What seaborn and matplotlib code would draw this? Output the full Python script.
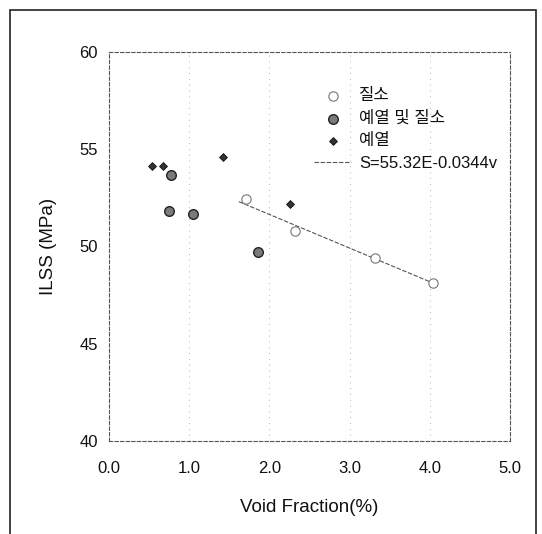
"""ILSS vs void fraction scatter (질소 / 예열 및 질소 / 예열)"""
import numpy as np
import pandas as pd
import matplotlib
matplotlib.use("Agg")
import matplotlib.pyplot as plt
import matplotlib.patches as mpatches
import seaborn as sns

# data
n2_x = [1.71, 2.32, 3.32, 4.04]
n2_y = [52.45, 50.8, 49.4, 48.1]
pre_n2_x = [0.77, 0.75, 1.05, 1.86]
pre_n2_y = [53.67, 51.8, 51.68, 49.72]
pre_x = [0.54, 0.68, 1.42, 2.26]
pre_y = [54.15, 54.15, 54.6, 52.2]
fit_x = [1.62, 4.08]
fit_y = [52.3, 48.05]

labels = ["질소", "예열 및 질소", "예열", "S=55.32E-0.0344v"]
x_ticks = [0.0, 1.0, 2.0, 3.0, 4.0, 5.0]
y_ticks = [40, 45, 50, 55, 60]

sns.set_theme(style="white")
plt.rcParams["font.family"] = ["Liberation Sans", "Noto Sans CJK KR", "DejaVu Sans"]
plt.rcParams["axes.unicode_minus"] = False
plt.rcParams["text.color"] = "#111"
plt.rcParams["axes.labelcolor"] = "#111"
plt.rcParams["xtick.color"] = "#111"
plt.rcParams["ytick.color"] = "#111"

fig = plt.figure(figsize=(5.42, 5.34), dpi=100)
ax = fig.add_axes([0.201, 0.174, 0.740, 0.729])

# outer frame of the scanned figure
fig.patches.append(mpatches.Rectangle((0.018, -0.05), 0.971, 1.032, transform=fig.transFigure,
                                      fill=False, edgecolor="#222", linewidth=1.2))

sns.scatterplot(x=n2_x, y=n2_y, ax=ax, marker="o", s=45, facecolor="white",
                edgecolor="#777", linewidth=0.8, label=labels[0], zorder=4)
sns.scatterplot(x=pre_n2_x, y=pre_n2_y, ax=ax, marker="o", s=48, color="#7a7a7a",
                edgecolor="#222", linewidth=1.0, label=labels[1], zorder=4)
sns.scatterplot(x=pre_x, y=pre_y, ax=ax, marker="D", s=16, color="#333",
                edgecolor="#111", linewidth=0.6, label=labels[2], zorder=4)
sns.lineplot(x=fit_x, y=fit_y, ax=ax, color="#555", linewidth=0.8,
             linestyle=(0, (4, 1.5)), label=labels[3], zorder=3)

ax.set_xlim(0, 5)
ax.set_ylim(40, 60)
ax.set_xticks(x_ticks)
ax.set_xticklabels([f"{v:.1f}" for v in x_ticks], fontsize=12)
ax.set_yticks(y_ticks)
ax.set_yticklabels([str(v) for v in y_ticks], fontsize=12)
ax.tick_params(axis="x", length=0, pad=14)
ax.tick_params(axis="y", length=0, pad=8)

for x in x_ticks[1:-1]:
    ax.axvline(x, color="#999", linewidth=0.6, linestyle=(0, (1, 6)), zorder=1)

for sp in ax.spines.values():
    sp.set_color("#555")
    sp.set_linewidth(0.8)
    sp.set_linestyle((0, (3, 2)))

ax.set_xlabel("Void Fraction(%)", fontsize=13.5, labelpad=17)
ax.set_ylabel("ILSS (MPa)", fontsize=13.5, labelpad=16)

ax.legend(loc="upper left", bbox_to_anchor=(0.475, 0.945), frameon=False, fontsize=12,
          handlelength=2.2, handletextpad=0.5, labelspacing=0.45)

fig.savefig("out.png", dpi=100)
